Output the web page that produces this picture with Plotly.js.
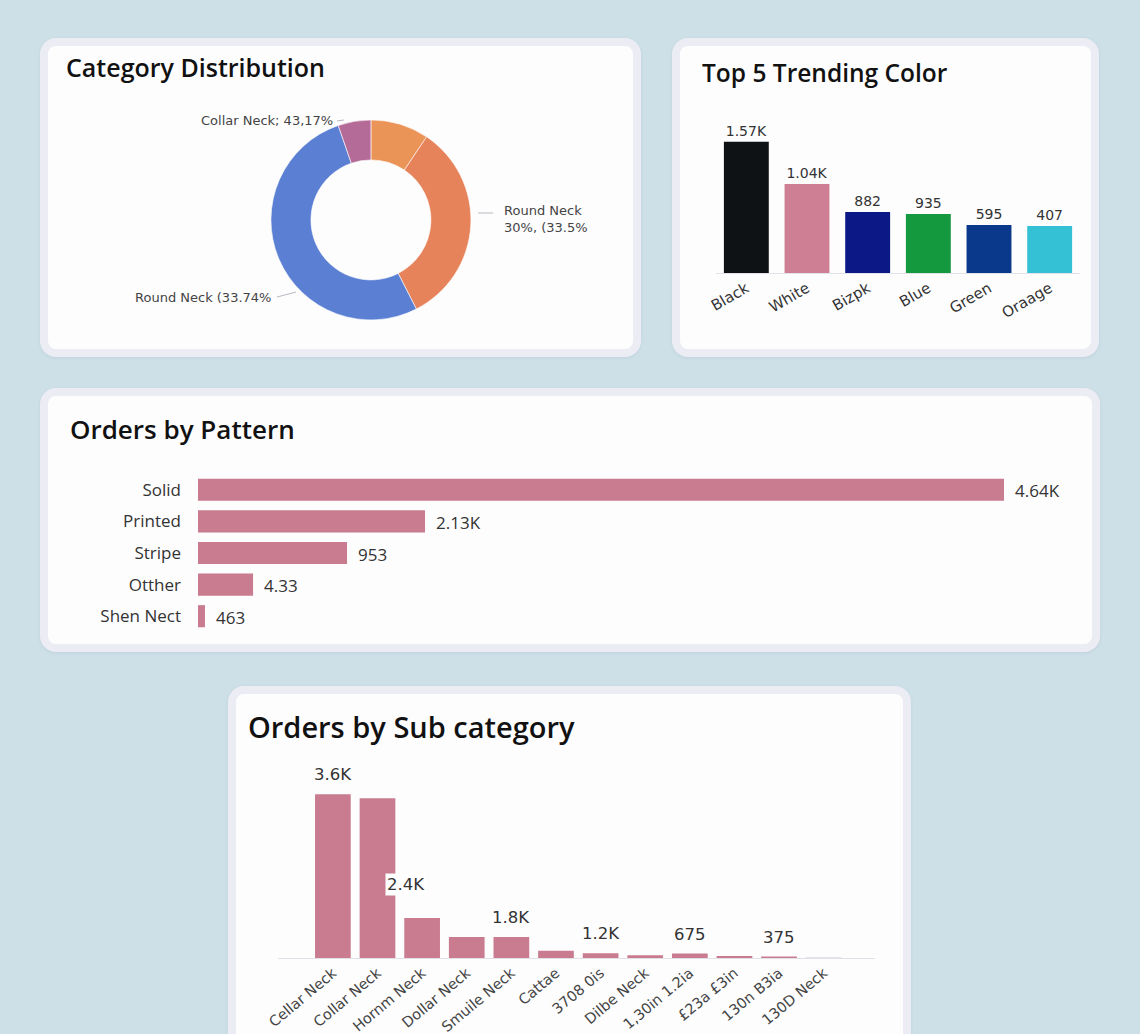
<!DOCTYPE html>
<html>
<head>
<meta charset="utf-8">
<script src="https://cdn.plot.ly/plotly-3.0.1.min.js"></script>
<style>
  html, body { margin: 0; padding: 0; width: 1140px; height: 1034px; overflow: hidden; background: #cde0e7; font-family: "Open Sans", sans-serif; }
  .card { position: absolute; box-sizing: border-box; border: 8px solid #ecedf4; border-radius: 16px; background: #fdfdfe; overflow: hidden; box-shadow: 0 1px 3px rgba(120,130,160,0.15); }
  .plot { position: absolute; left: 0; top: 0; }
</style>
</head>
<body>
<div class="card" style="left:40px; top:38px; width:601px; height:319px;"><div id="c1" class="plot"></div></div>
<div class="card" style="left:672px; top:38px; width:427px; height:319px;"><div id="c2" class="plot"></div></div>
<div class="card" style="left:40px; top:388px; width:1060px; height:264px;"><div id="c3" class="plot"></div></div>
<div class="card" style="left:228px; top:686px; width:683px; height:366px;"><div id="c4" class="plot"></div></div>
<script>
// ---- Category Distribution ----
const catLabels = ["Other", "Round Neck 30%", "Round Neck", "Collar Neck"];
const catValues = [9.4, 33.1, 52.2, 5.3];
const catText = ["", "Round Neck<br>30%, (33.5%", "Round Neck (33.74%", "Collar Neck; 43,17%"];
const catColors = ["#eb9458", "#e7835a", "#5a7fd3", "#b56b97"];

// ---- Top 5 Trending Color ----
const colorNames = ["Black", "White", "Bizpk", "Blue", "Green", "Oraage"];
const colorValues = [1570, 1066, 731, 707, 575, 563];
const colorText = ["1.57K", "1.04K", "882", "935", "595", "407"];
const colorFills = ["#0e1215", "#cf7f93", "#0b1885", "#14993e", "#0a388b", "#35c1d5"];

// ---- Orders by Pattern ----
const patternNames = ["Solid", "Printed", "Stripe", "Otther", "Shen Nect"];
const patternValues = [4640, 1307, 858, 317, 40];
const patternText = ["4.64K", "2.13K", "953", "4.33", "463"];

// ---- Orders by Sub category ----
const subNames = ["Cellar Neck", "Collar Neck", "Hornm Neck", "Dollar Neck", "Smuile Neck", "Cattae", "3708 0is", "Dilbe Neck", "1,30in 1.2ia", "£23a £3in", "130n B3ia", "130D Neck"];
const subValues = [3600, 3512, 878, 461, 461, 162, 103, 59, 97, 44, 31, 15];
const subText = ["3.6K", "", "2.4K", "", "1.8K", "", "1.2K", "", "675", "", "375", ""];

const PINK = "#c97b8f";
const cfg = {displayModeBar: false, staticPlot: true};
const titleFont = (s) => ({family: "Open Sans", size: s, color: "#111", weight: 600});

// Chart 1: donut, labels placed as callouts
const W1 = 585, H1 = 303;
const px = (v) => (v - 48) / W1;
const py = (v) => 1 - (v - 46) / H1;
const labelFont = {family: "DejaVu Sans", size: 13, color: "#444"};
const c1Ann = [
  {text: catText[3], x: px(335), y: py(120), xanchor: "right", yanchor: "middle"},
  {text: catText[1], x: px(502), y: py(219), xanchor: "left", yanchor: "middle", align: "left"},
  {text: catText[2], x: px(273), y: py(297), xanchor: "right", yanchor: "middle"}
].map(a => Object.assign({xref: "paper", yref: "paper", showarrow: false, font: labelFont}, a));
const lineStyle = {color: "#b8b8c0", width: 1};
const c1Shapes = [
  {type: "line", x0: px(337), x1: px(344), y0: py(121), y1: py(120)},
  {type: "line", x0: px(478), x1: px(493), y0: py(213), y1: py(213)},
  {type: "path", path: ""}
].slice(0, 2).map(s => Object.assign({xref: "paper", yref: "paper", line: lineStyle}, s));
c1Shapes.push({type: "line", xref: "paper", yref: "paper", x0: px(277), x1: px(296), y0: py(297), y1: py(292), line: lineStyle});

Plotly.newPlot("c1", [{
  type: "pie", hole: 0.6, sort: false, direction: "clockwise", rotation: 0,
  labels: catLabels, values: catValues,
  textinfo: "none",
  marker: {colors: catColors, line: {color: "rgba(255,255,255,0.6)", width: 1}},
  domain: {x: [0.381, 0.723], y: [0.096, 0.756]},
  showlegend: false
}], {
  width: W1, height: H1, margin: {l: 0, r: 0, t: 0, b: 0},
  paper_bgcolor: "rgba(0,0,0,0)",
  annotations: c1Ann, shapes: c1Shapes,
  title: {text: "Category Distribution", font: titleFont(25), xref: "container", yref: "container", x: 18/W1, xanchor: "left", y: 1 - 22/H1, yanchor: "middle"}
}, cfg);

// Chart 2
Plotly.newPlot("c2", [{
  type: "bar", x: colorNames, y: colorValues, text: colorText,
  textposition: "outside", cliponaxis: false,
  marker: {color: colorFills},
  textfont: {family: "DejaVu Sans", size: 14, color: "#333"},
  hoverinfo: "none"
}], {
  width: 411, height: 303, margin: {l: 36, r: 11, t: 85, b: 76},
  paper_bgcolor: "rgba(0,0,0,0)", plot_bgcolor: "rgba(0,0,0,0)",
  bargap: 0.26,
  title: {text: "Top 5 Trending Color", font: titleFont(24.5), xref: "container", yref: "container", x: 22/411, xanchor: "left", y: 1 - 27/303, yanchor: "middle"},
  xaxis: {tickangle: -30, tickfont: {family: "DejaVu Sans", size: 15, color: "#333"}, showline: true, linecolor: "#e2e2e8", ticks: "", showgrid: false},
  yaxis: {range: [0, 1700], visible: false, showgrid: false, zeroline: false}
}, cfg);

// Chart 3
const c3Ann = patternText.map((t, i) => ({
  x: patternValues[i], y: patternNames[i], text: t, showarrow: false,
  xanchor: "left", yanchor: "middle", xshift: 9, yshift: -1,
  font: {family: "Open Sans", size: 17, color: "#333"}
}));
Plotly.newPlot("c3", [{
  type: "bar", orientation: "h", y: patternNames, x: patternValues,
  marker: {color: PINK},
  hoverinfo: "none"
}], {
  width: 1044, height: 248, margin: {l: 150, r: 88, t: 78, b: 12},
  paper_bgcolor: "rgba(0,0,0,0)", plot_bgcolor: "rgba(0,0,0,0)",
  bargap: 0.3,
  annotations: c3Ann,
  title: {text: "Orders by Pattern", font: titleFont(26), xref: "container", yref: "container", x: 22/1044, xanchor: "left", y: 1 - 34/248, yanchor: "middle"},
  xaxis: {range: [0, 4640], visible: false, showgrid: false, zeroline: false},
  yaxis: {autorange: "reversed", tickfont: {family: "Open Sans", size: 17, color: "#333"}, ticks: "", ticklabelstandoff: 16, showgrid: false, zeroline: false, showline: false}
}, cfg);

// Chart 4
const subAnn = [];
subText.forEach((t, i) => {
  if (!t) return;
  const special = (t === "2.4K");
  subAnn.push({
    x: subNames[i], y: subValues[i], text: t, showarrow: false,
    yanchor: "bottom", yshift: special ? 22 : 8, xshift: special ? -16 : 0,
    bgcolor: special ? "#ffffff" : "rgba(0,0,0,0)",
    font: {family: "DejaVu Sans", size: 16.5, color: "#333"}
  });
});
Plotly.newPlot("c4", [{
  type: "bar", x: subNames, y: subValues,
  marker: {color: subValues.map((v, i) => i === subValues.length - 1 ? "#dcdde3" : PINK)},
  hoverinfo: "none"
}], {
  width: 667, height: 350, margin: {l: 42, r: 28, t: 82, b: 86},
  paper_bgcolor: "rgba(0,0,0,0)", plot_bgcolor: "rgba(0,0,0,0)",
  bargap: 0.2,
  annotations: subAnn,
  title: {text: "Orders by Sub category", font: titleFont(29), xref: "container", yref: "container", x: 12/667, xanchor: "left", y: 1 - 34/350, yanchor: "middle"},
  xaxis: {range: [-1.23, 12.15], tickangle: -40, tickfont: {family: "DejaVu Sans", size: 14.5, color: "#444"}, showline: true, linecolor: "#e0e0e6", ticks: "", showgrid: false},
  yaxis: {range: [0, 4000], visible: false, showgrid: false, zeroline: false}
}, cfg);
</script>
</body>
</html>
